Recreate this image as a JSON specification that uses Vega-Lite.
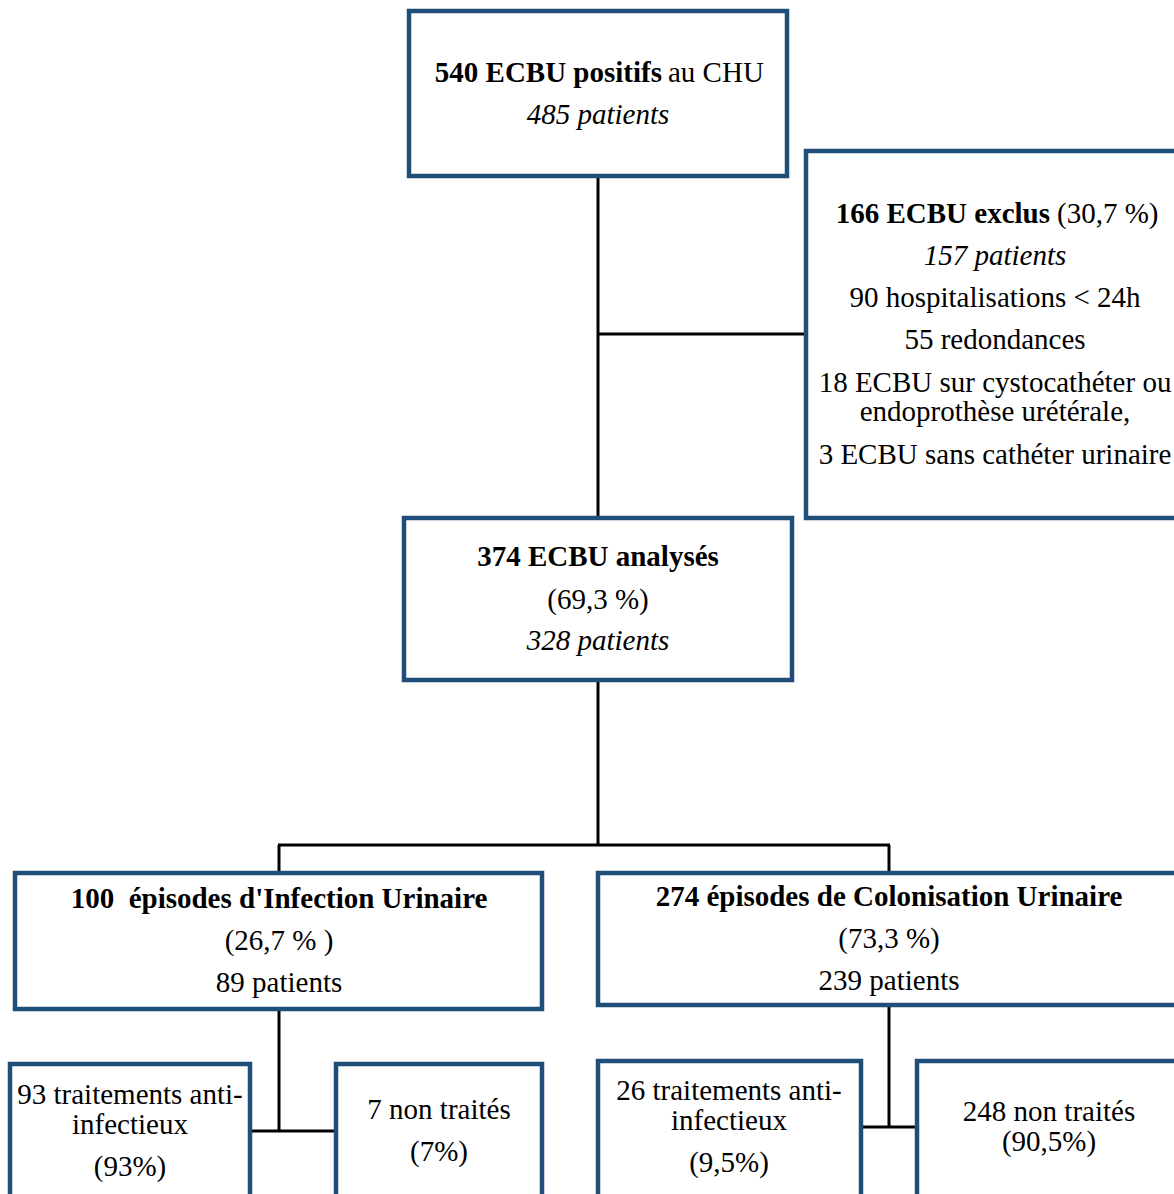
{
  "$schema": "https://vega.github.io/schema/vega-lite/v6.json",
  "width": 1174,
  "height": 1194,
  "padding": 0,
  "autosize": {"type": "none"},
  "background": "white",
  "config": {"view": {"stroke": null}, "text": {"font": "Liberation Serif", "fontSize": 29, "color": "black", "baseline": "middle"}},
  "datasets": {
    "boxes": [
      {"id": "top", "x1": 409, "x2": 787, "y1": 11, "y2": 176},
      {"id": "exclus", "x1": 806, "x2": 1190, "y1": 151, "y2": 518},
      {"id": "analyses", "x1": 404, "x2": 792, "y1": 518, "y2": 680},
      {"id": "infection", "x1": 15, "x2": 542, "y1": 873, "y2": 1009},
      {"id": "colonisation", "x1": 598, "x2": 1190, "y1": 873, "y2": 1005},
      {"id": "t93", "x1": 10, "x2": 250, "y1": 1064, "y2": 1210},
      {"id": "n7", "x1": 336, "x2": 542, "y1": 1064, "y2": 1210},
      {"id": "t26", "x1": 598, "x2": 861, "y1": 1061, "y2": 1210},
      {"id": "n248", "x1": 917, "x2": 1190, "y1": 1061, "y2": 1210}
    ],
    "lines": [
      {"x1": 598, "x2": 598, "y1": 176, "y2": 518},
      {"x1": 598, "x2": 806, "y1": 334, "y2": 334},
      {"x1": 598, "x2": 598, "y1": 680, "y2": 845},
      {"x1": 278, "x2": 890, "y1": 845, "y2": 845},
      {"x1": 279, "x2": 279, "y1": 845, "y2": 873},
      {"x1": 889, "x2": 889, "y1": 845, "y2": 873},
      {"x1": 279, "x2": 279, "y1": 1009, "y2": 1131},
      {"x1": 250, "x2": 336, "y1": 1131, "y2": 1131},
      {"x1": 889, "x2": 889, "y1": 1005, "y2": 1127},
      {"x1": 861, "x2": 917, "y1": 1127, "y2": 1127}
    ],
    "texts": [
      {"kind": "boldRight", "x": 662, "y": 73, "label": "540 ECBU positifs"},
      {"kind": "normalLeft", "x": 668, "y": 73, "label": "au CHU"},
      {"kind": "italic", "x": 598, "y": 115, "label": "485 patients"},
      {"kind": "boldRight", "x": 1050, "y": 214, "label": "166 ECBU exclus"},
      {"kind": "normalLeft", "x": 1057, "y": 214, "label": "(30,7 %)"},
      {"kind": "italic", "x": 995, "y": 256, "label": "157 patients"},
      {"kind": "normal", "x": 995, "y": 298, "label": "90 hospitalisations < 24h"},
      {"kind": "normal", "x": 995, "y": 340, "label": "55 redondances"},
      {"kind": "normal", "x": 995, "y": 383, "label": "18 ECBU sur cystocathéter ou"},
      {"kind": "normal", "x": 995, "y": 412, "label": "endoprothèse urétérale,"},
      {"kind": "normal", "x": 995, "y": 455, "label": "3 ECBU sans cathéter urinaire"},
      {"kind": "bold", "x": 598, "y": 557, "label": "374 ECBU analysés"},
      {"kind": "normal", "x": 598, "y": 600, "label": "(69,3 %)"},
      {"kind": "italic", "x": 598, "y": 641, "label": "328 patients"},
      {"kind": "bold", "x": 279, "y": 899, "label": "100\u00a0 épisodes d'Infection Urinaire"},
      {"kind": "normal", "x": 279, "y": 941, "label": "(26,7 % )"},
      {"kind": "normal", "x": 279, "y": 983, "label": "89 patients"},
      {"kind": "bold", "x": 889, "y": 897, "label": "274 épisodes de Colonisation Urinaire"},
      {"kind": "normal", "x": 889, "y": 939, "label": "(73,3 %)"},
      {"kind": "normal", "x": 889, "y": 981, "label": "239 patients"},
      {"kind": "normal", "x": 130, "y": 1095, "label": "93 traitements anti-"},
      {"kind": "normal", "x": 130, "y": 1125, "label": "infectieux"},
      {"kind": "normal", "x": 130, "y": 1167, "label": "(93%)"},
      {"kind": "normal", "x": 439, "y": 1110, "label": "7 non traités"},
      {"kind": "normal", "x": 439, "y": 1152, "label": "(7%)"},
      {"kind": "normal", "x": 729, "y": 1091, "label": "26 traitements anti-"},
      {"kind": "normal", "x": 729, "y": 1121, "label": "infectieux"},
      {"kind": "normal", "x": 729, "y": 1163, "label": "(9,5%)"},
      {"kind": "normal", "x": 1049, "y": 1112, "label": "248 non traités"},
      {"kind": "normal", "x": 1049, "y": 1142, "label": "(90,5%)"}
    ]
  },
  "layer": [
    {
      "data": {"name": "lines"},
      "mark": {"type": "rule", "color": "black", "strokeWidth": 3},
      "encoding": {
        "x": {"field": "x1", "type": "quantitative", "scale": {"domain": [0, 1174], "nice": false, "zero": false}, "axis": null},
        "x2": {"field": "x2"},
        "y": {"field": "y1", "type": "quantitative", "scale": {"domain": [0, 1194], "nice": false, "zero": false, "reverse": true}, "axis": null},
        "y2": {"field": "y2"}
      }
    },
    {
      "data": {"name": "boxes"},
      "mark": {"type": "rect", "fill": "white", "stroke": "#1f4e79", "strokeWidth": 4.5},
      "encoding": {
        "x": {"field": "x1", "type": "quantitative"},
        "x2": {"field": "x2"},
        "y": {"field": "y1", "type": "quantitative"},
        "y2": {"field": "y2"}
      }
    },
    {
      "data": {"name": "texts"},
      "transform": [{"filter": "datum.kind === 'normal'"}],
      "mark": {"type": "text", "align": "center"},
      "encoding": {
        "x": {"field": "x", "type": "quantitative"},
        "y": {"field": "y", "type": "quantitative"},
        "text": {"field": "label"}
      }
    },
    {
      "data": {"name": "texts"},
      "transform": [{"filter": "datum.kind === 'bold'"}],
      "mark": {"type": "text", "fontWeight": "bold", "align": "center"},
      "encoding": {
        "x": {"field": "x", "type": "quantitative"},
        "y": {"field": "y", "type": "quantitative"},
        "text": {"field": "label"}
      }
    },
    {
      "data": {"name": "texts"},
      "transform": [{"filter": "datum.kind === 'italic'"}],
      "mark": {"type": "text", "fontStyle": "italic", "align": "center"},
      "encoding": {
        "x": {"field": "x", "type": "quantitative"},
        "y": {"field": "y", "type": "quantitative"},
        "text": {"field": "label"}
      }
    },
    {
      "data": {"name": "texts"},
      "transform": [{"filter": "datum.kind === 'boldRight'"}],
      "mark": {"type": "text", "fontWeight": "bold", "align": "right"},
      "encoding": {
        "x": {"field": "x", "type": "quantitative"},
        "y": {"field": "y", "type": "quantitative"},
        "text": {"field": "label"}
      }
    },
    {
      "data": {"name": "texts"},
      "transform": [{"filter": "datum.kind === 'normalLeft'"}],
      "mark": {"type": "text", "align": "left"},
      "encoding": {
        "x": {"field": "x", "type": "quantitative"},
        "y": {"field": "y", "type": "quantitative"},
        "text": {"field": "label"}
      }
    }
  ]
}
